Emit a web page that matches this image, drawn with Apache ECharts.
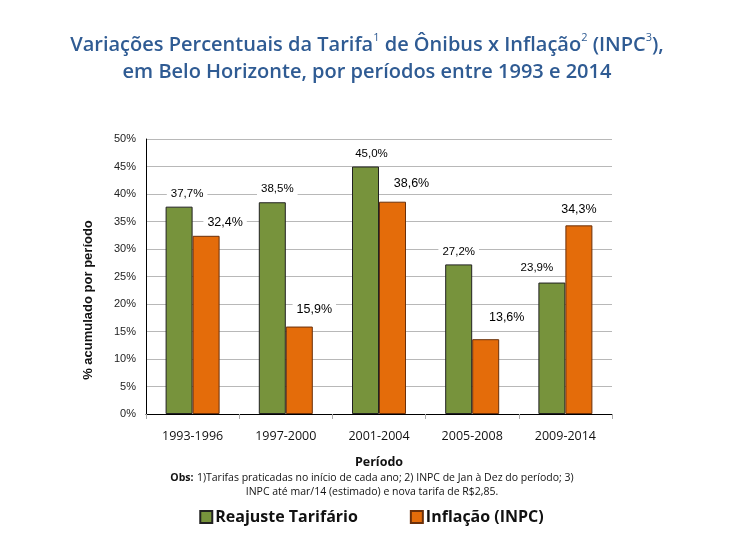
<!DOCTYPE html>
<html>
<head>
<meta charset="utf-8">
<script src="https://cdn.jsdelivr.net/npm/echarts@6/dist/echarts.min.js"></script>
<style>html,body{margin:0;padding:0;background:#fff}#c{width:743px;height:558px}</style>
</head>
<body>
<div id="c"></div>
<script>
const categories = ['1993-1996', '1997-2000', '2001-2004', '2005-2008', '2009-2014'];
const reajuste = [37.7, 38.5, 45.0, 27.2, 23.9];
const inflacao = [32.4, 15.9, 38.6, 13.6, 34.3];
const yTicks = [0, 5, 10, 15, 20, 25, 30, 35, 40, 45, 50];
const reajusteLabelShift = [[8, 0], [5, 0], [6, 0], [0, 0], [-15, -2]];
const inflacaoLabelShift = [[19, 0], [15, -4], [19, -5], [21, -8], [0, -2]];

const fmt = v => v.toFixed(1).replace('.', ',') + '%';
const chart = echarts.init(document.getElementById('c'), null, {renderer: 'canvas'});
const titleColor = '#2F5B93';
const baseFont = '"Open Sans", sans-serif';
const arial = '"Liberation Sans", Arial, sans-serif';

function mkData(vals, shifts) {
  return vals.map((v, i) => ({value: v, label: {offset: shifts[i]}}));
}

chart.setOption({
  animation: false,
  textStyle: {fontFamily: baseFont},
  grid: {left: 146, right: 131, top: 139, bottom: 144, containLabel: false},
  legend: {
    bottom: 28, left: 'center', itemGap: 52, itemWidth: 12, itemHeight: 12,
    icon: 'rect',
    textStyle: {fontSize: 16, fontWeight: 'bold', color: '#111', fontFamily: baseFont, padding: [0, 0, 0, -2]},
    data: ['Reajuste Tarifário', 'Inflação (INPC)']
  },
  xAxis: {
    type: 'category', data: categories,
    name: 'Período', nameLocation: 'middle', nameGap: 42,
    nameTextStyle: {fontSize: 12.5, fontWeight: 'bold', color: '#111', fontFamily: baseFont},
    axisLine: {lineStyle: {color: '#000', width: 1}},
    axisTick: {show: true, length: 5, lineStyle: {color: '#aaa'}},
    axisLabel: {fontSize: 12.5, color: '#111', margin: 16, fontFamily: baseFont}
  },
  yAxis: {
    type: 'value', min: yTicks[0], max: yTicks[yTicks.length - 1], interval: 5,
    axisLine: {show: true, lineStyle: {color: '#000'}},
    axisTick: {show: false},
    axisLabel: {fontSize: 11, color: '#222', margin: 10, formatter: v => v + '%', fontFamily: arial},
    splitLine: {lineStyle: {color: '#b8b8b8', width: 1}}
  },
  series: [
    {
      name: 'Reajuste Tarifário', type: 'bar', data: mkData(reajuste, reajusteLabelShift),
      barWidth: 27, barGap: '0%', barCategoryGap: '42%',
      itemStyle: {color: '#77933C', borderColor: '#222', borderWidth: 1},
      label: {show: true, position: 'top', distance: 6, formatter: p => fmt(p.value), fontSize: 11.5,
        color: '#000', fontFamily: arial, backgroundColor: '#fff', padding: [1, 4]}
    },
    {
      name: 'Inflação (INPC)', type: 'bar', data: mkData(inflacao, inflacaoLabelShift),
      barWidth: 27,
      itemStyle: {color: '#E46C0A', borderColor: '#6b300a', borderWidth: 1},
      label: {show: true, position: 'top', distance: 6, formatter: p => fmt(p.value), fontSize: 12.5,
        color: '#000', fontFamily: arial, backgroundColor: '#fff', padding: [1, 4]}
    }
  ],
  graphic: [
    {
      type: 'text', x: 367, y: 32,
      style: {
        text: '{t|Variações Percentuais da Tarifa}{s|1}{t| de Ônibus x Inflação}{s|2}{t| (INPC}{s|3}{t|),}\n{t|em Belo Horizonte, por períodos entre 1993 e 2014}',
        align: 'center',
        rich: {
          t: {fontSize: 20, fontWeight: 600, fill: titleColor, fontFamily: baseFont, lineHeight: 27},
          s: {fontSize: 11, fontWeight: 400, fill: titleColor, fontFamily: baseFont, verticalAlign: 'top', lineHeight: 27}
        }
      }
    },
    {
      type: 'text', x: 88, y: 300, rotation: Math.PI / 2,
      style: {
        text: '% acumulado por período', align: 'center', verticalAlign: 'middle',
        fontSize: 13, fontWeight: 'bold', fill: '#111', fontFamily: arial
      }
    },
    {
      type: 'text', x: 372, y: 471,
      style: {
        text: '{b|Obs:} {n|1)Tarifas praticadas no início de cada ano; 2) INPC de Jan à Dez do período; 3)}\n{n|INPC até mar/14 (estimado) e nova tarifa de R$2,85.}',
        align: 'center',
        rich: {
          b: {fontSize: 10.5, fontWeight: 'bold', fill: '#111', fontFamily: baseFont, lineHeight: 14},
          n: {fontSize: 10.5, fill: '#111', fontFamily: baseFont, lineHeight: 14}
        }
      }
    }
  ]
});
</script>
</body>
</html>
